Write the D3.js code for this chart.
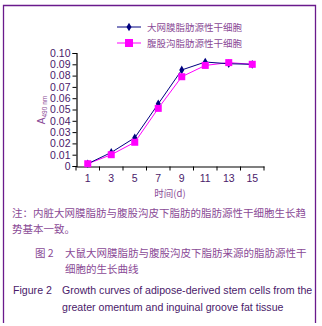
<!DOCTYPE html>
<html>
<head>
<meta charset="utf-8">
<script src="https://cdn.jsdelivr.net/npm/d3@7"></script>
<style>
  body { margin: 0; background: #fff; }
  svg { display: block; }
</style>
</head>
<body>
<div id="chart"></div>
<script>
// data
var days = ["1", "3", "5", "7", "9", "11", "13", "15"];
var omentum = [0.002, 0.012, 0.025, 0.055, 0.085, 0.092, 0.0905, 0.090];
var inguinal = [0.002, 0.010, 0.021, 0.051, 0.079, 0.089, 0.0915, 0.090];
var yTicks = [0, 0.01, 0.02, 0.03, 0.04, 0.05, 0.06, 0.07, 0.08, 0.09, 0.10];
var seriesNames = ["大网膜脂肪源性干细胞", "腹股沟脂肪源性干细胞"];
var noteLines = ["注：内脏大网膜脂肪与腹股沟皮下脂肪的脂肪源性干细胞生长趋", "势基本一致。"];
var cnCaption = ["大鼠大网膜脂肪与腹股沟皮下脂肪来源的脂肪源性干", "细胞的生长曲线"];
var enCaption = ["Growth curves of adipose-derived stem cells from the", "greater omentum and inguinal groove fat tissue"];

var W = 322, H = 326;
var purple = "#6a1a8c", tickCol = "#4a1a6a", textCol = "#8a4a96";
var cjk = "'Noto Sans CJK SC', sans-serif", latin = "'Liberation Sans', Arial, sans-serif";

var svg = d3.select("#chart").append("svg")
    .attr("width", W).attr("height", H);

// frame (bottom edge falls outside the picture)
svg.append("path")
    .attr("d", "M3.5,323 L3.5,5.5 L315.5,5.5 L315.5,323")
    .attr("fill", "none").attr("stroke", purple).attr("stroke-width", 1.3);

// scales
var x = d3.scaleBand().domain(days).range([76, 264]);
var y = d3.scaleLinear().domain([0, 0.10]).range([166, 53]);
var cx = function(i) { return x(days[i]) + x.bandwidth() / 2; };

// Y axis
var yAxis = svg.append("g")
    .attr("transform", "translate(76.5,0)")
    .call(d3.axisLeft(y).tickValues(yTicks).tickSize(4).tickPadding(2)
        .tickFormat(function(d) { return d === 0 ? "0" : d3.format(".2f")(d); }));
yAxis.select(".domain").attr("stroke", "#000").attr("stroke-width", 1.2);
yAxis.selectAll(".tick line").attr("stroke", "#000");
yAxis.selectAll("text").attr("fill", tickCol).style("font-family", latin).style("font-size", "10.5px");

// X axis: labels centred in bands, ticks on band edges
var xAxis = svg.append("g")
    .attr("transform", "translate(0,166.5)")
    .call(d3.axisBottom(x).tickSize(0).tickPadding(8));
xAxis.select(".domain").attr("stroke", "#000").attr("stroke-width", 1.2);
xAxis.selectAll("text").attr("fill", tickCol).style("font-family", latin).style("font-size", "10.5px");
xAxis.selectAll(".edge")
    .data(days.concat(["end"]))
    .enter().append("line")
    .attr("x1", function(d) { return d === "end" ? x.range()[1] : x(d); })
    .attr("x2", function(d) { return d === "end" ? x.range()[1] : x(d); })
    .attr("y1", 0).attr("y2", 4)
    .attr("stroke", "#000");

// axis titles
svg.append("text")
    .attr("transform", "translate(45,110) rotate(-90)")
    .attr("text-anchor", "middle")
    .attr("fill", textCol).style("font-family", latin).style("font-size", "10px")
    .text("A")
    .append("tspan").attr("dy", 2).style("font-size", "6.5px").text("490 nm");

svg.append("text")
    .attr("x", 170).attr("y", 197)
    .attr("text-anchor", "middle")
    .attr("fill", textCol).style("font-family", cjk).style("font-size", "9.5px")
    .text("时间(d)");

// lines
var line = d3.line()
    .x(function(d, i) { return cx(i); })
    .y(function(d) { return y(d); });

svg.append("path").datum(inguinal)
    .attr("fill", "none").attr("stroke", "#ff00ff").attr("stroke-width", 1)
    .attr("d", line);
svg.append("path").datum(omentum)
    .attr("fill", "none").attr("stroke", "#000080").attr("stroke-width", 1)
    .attr("d", line);

// markers
var diamond = d3.symbol().type(d3.symbolDiamond).size(22);
svg.selectAll(".m1").data(omentum).enter().append("path")
    .attr("transform", function(d, i) { return "translate(" + cx(i) + "," + y(d) + ")"; })
    .attr("d", diamond).attr("fill", "#000080");
svg.selectAll(".m2").data(inguinal).enter().append("rect")
    .attr("x", function(d, i) { return cx(i) - 3.5; })
    .attr("y", function(d) { return y(d) - 3.5; })
    .attr("width", 7).attr("height", 7)
    .attr("fill", "#ff00ff");

// legend
var legend = svg.append("g");
var legCol = ["#000080", "#ff00ff"];
seriesNames.forEach(function(name, i) {
    var ly = 27 + i * 16;
    legend.append("line").attr("x1", 117).attr("x2", 141).attr("y1", ly).attr("y2", ly)
        .attr("stroke", legCol[i]).attr("stroke-width", 1);
    if (i === 0) {
        legend.append("path").attr("transform", "translate(129," + ly + ")")
            .attr("d", diamond).attr("fill", legCol[i]);
    } else {
        legend.append("rect").attr("x", 125).attr("y", ly - 4).attr("width", 8).attr("height", 8)
            .attr("fill", legCol[i]);
    }
    legend.append("text").attr("x", 147).attr("y", ly + 3.5)
        .attr("fill", textCol).style("font-family", cjk).style("font-size", "9.5px")
        .text(name);
});

// notes and captions
var cap = svg.append("g").attr("fill", textCol);
noteLines.forEach(function(t, i) {
    cap.append("text").attr("x", 12).attr("y", 217 + i * 16)
        .style("font-family", cjk).style("font-size", "10.5px").text(t);
});
cap.append("text").attr("x", 35).attr("y", 257)
    .style("font-family", cjk).style("font-size", "10.5px").text("图 2");
cnCaption.forEach(function(t, i) {
    cap.append("text").attr("x", 65).attr("y", 257 + i * 16)
        .style("font-family", cjk).style("font-size", "10.5px").text(t);
});
cap.append("text").attr("x", 13).attr("y", 294)
    .attr("fill", tickCol)
    .style("font-family", latin).style("font-size", "10.6px").text("Figure 2");
enCaption.forEach(function(t, i) {
    cap.append("text").attr("x", 62).attr("y", 294 + i * 17)
        .attr("fill", tickCol)
        .style("font-family", latin).style("font-size", "10.6px").text(t);
});
</script>
</body>
</html>
